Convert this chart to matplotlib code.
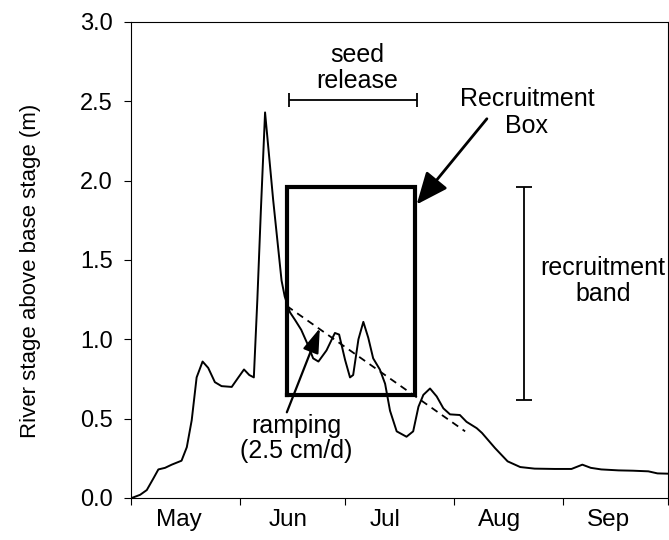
import numpy as np
import matplotlib
matplotlib.use("Agg")
import matplotlib.pyplot as plt

plt.rcParams["font.family"] = ["Liberation Sans", "DejaVu Sans"]
plt.rcParams["font.size"] = 18

# days since May 1, river stage (m)
days = [0.2, 2.6, 4.5, 6.4, 7.8, 9.7, 11.6, 14.4, 15.9, 17.3, 18.7, 20.4,
        22.0, 23.9, 25.8, 28.7, 30.6, 32.2, 33.7, 35.0, 36.0, 37.0, 38.2,
        40.5, 42.9, 43.8, 45.3, 46.8, 48.5, 50.3, 51.9, 53.4, 55.7, 58.1,
        59.3, 61.0, 62.4, 63.3, 64.8, 66.2, 67.6, 69.0, 70.9, 72.4, 73.8,
        75.7, 78.5, 80.4, 81.9, 83.3, 85.2, 87.1, 89.0, 90.9, 93.7, 95.6,
        98.5, 100.0, 103.7, 107.3, 110.9, 115.0, 120.7, 125.5, 128.6, 131.0,
        134.0, 138.9, 143.0, 147.4, 150.0, 153.3]
stage = [0.0, 0.02, 0.05, 0.124, 0.18, 0.19, 0.21, 0.235, 0.32, 0.49, 0.76,
         0.86, 0.82, 0.73, 0.705, 0.70, 0.76, 0.81, 0.775, 0.76, 1.25, 1.81,
         2.43, 1.88, 1.37, 1.27, 1.17, 1.12, 1.06, 0.97, 0.88, 0.86, 0.93,
         1.04, 1.03, 0.87, 0.76, 0.775, 1.0, 1.11, 1.01, 0.88, 0.81, 0.72,
         0.55, 0.42, 0.386, 0.42, 0.575, 0.65, 0.69, 0.64, 0.565, 0.527,
         0.523, 0.48, 0.44, 0.41, 0.315, 0.231, 0.195, 0.185, 0.183, 0.183,
         0.21, 0.19, 0.18, 0.174, 0.172, 0.168, 0.155, 0.153]

month_starts = [0, 31, 61, 92, 123, 153]
month_names = ["May", "Jun", "Jul", "Aug", "Sep"]
month_label_pos = [13.7, 44.7, 72.4, 105, 136]

box_days = [44.5, 80.9]
box_stage = [0.65, 1.96]
seed_days = [45.1, 81.6]
seed_stage = 2.51
ramp_days = [44.4, 95.2]
ramp_stage = [1.21, 0.42]
band_day = 112
band_stage = [0.62, 1.96]

fig = plt.figure(figsize=(6.69, 5.40), dpi=100)
ax = fig.add_axes([0.1958, 0.0778, 0.8027, 0.8815])

ax.plot(days, stage, color="black", lw=1.4)
ax.plot(ramp_days, ramp_stage, color="black", lw=1.3, ls=(0, (4, 3)))

# recruitment box
ax.plot([box_days[0], box_days[1], box_days[1], box_days[0], box_days[0]],
        [box_stage[0], box_stage[0], box_stage[1], box_stage[1], box_stage[0]],
        color="black", lw=3, solid_joinstyle="miter")

# seed release bar
sm = np.mean(seed_days)
ax.errorbar([sm], [seed_stage], xerr=[[sm - seed_days[0]], [seed_days[1] - sm]],
            fmt="none", ecolor="black", elinewidth=1.3, capsize=5, capthick=1.3)
ax.text(64.4, 2.71, "seed\nrelease", ha="center", va="center", linespacing=1.15)

# recruitment band bar
mid = np.mean(band_stage)
ax.errorbar([band_day], [mid], yerr=[[mid - band_stage[0]], [band_stage[1] - mid]],
            fmt="none", ecolor="black", elinewidth=1.3, capsize=6, capthick=1.3)
ax.text(134.5, 1.37, "recruitment\nband", ha="center", va="center", linespacing=1.1)

ax.text(112.8, 2.43, "Recruitment\nBox", ha="center", va="center", linespacing=1.15)
ax.annotate("", xy=(81.4, 1.85), xytext=(101.4, 2.39),
            arrowprops=dict(arrowstyle="-|>,head_length=0.7,head_width=0.3",
                            color="black", lw=2, mutation_scale=28,
                            shrinkA=0, shrinkB=0))

ax.text(47, 0.375, "ramping\n(2.5 cm/d)", ha="center", va="center", linespacing=1.1)
ax.annotate("", xy=(53.8, 1.07), xytext=(44.4, 0.54),
            arrowprops=dict(arrowstyle="-|>,head_length=0.6,head_width=0.2",
                            color="black", lw=1.6, mutation_scale=25,
                            shrinkA=0, shrinkB=0))

ax.set_xlim(0, 153)
ax.set_ylim(0, 3.0)
yt = np.arange(0, 3.01, 0.5)
ax.set_yticks(yt)
ax.set_yticklabels([f"{v:.1f}" for v in yt], fontsize=17)
ax.set_xticks(month_starts)
ax.set_xticklabels([])
ax.set_xticks(month_label_pos, minor=True)
ax.set_xticklabels(month_names, minor=True, fontsize=17.5)
ax.tick_params(axis="x", which="minor", length=0, pad=8)
ax.tick_params(axis="both", which="major", direction="out", length=5, width=0.8)
ax.tick_params(axis="y", which="major", pad=8)

fig.text(31 / 669, 1 - 271 / 540, "River stage above base stage (m)",
         rotation=90, ha="center", va="center", fontsize=16)

for s in ax.spines.values():
    s.set_linewidth(0.8)

fig.savefig("out.png", dpi=100)
